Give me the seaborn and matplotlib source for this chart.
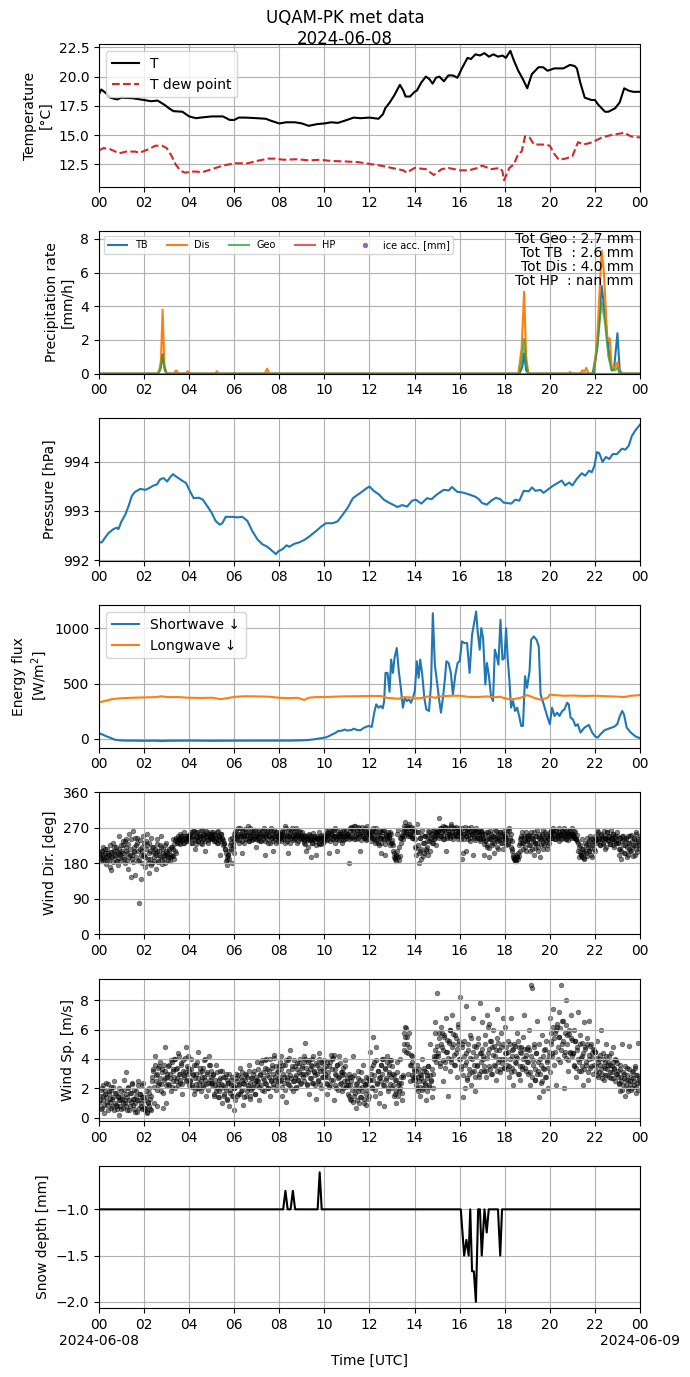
import numpy as np
import pandas as pd
import matplotlib
matplotlib.use("Agg")
import matplotlib.pyplot as plt
import matplotlib.dates as mdates
from matplotlib.ticker import FuncFormatter
import seaborn as sns

plt.rcParams['font.family'] = ['DejaVu Sans']

DAY = "2024-06-08"
TITLE = "UQAM-PK met data\n2024-06-08"

# ---------------- data (hour of day, value) ----------------
T_pts = [(0.0,18.5),(0.1,18.9),(0.3,18.6),(0.5,18.2),(0.8,18.05),(1.0,18.2),(1.5,18.15),(2.0,18.0),
         (2.3,17.9),(2.6,17.95),(2.9,17.6),(3.1,17.3),(3.3,17.05),(3.7,17.0),(4.0,16.6),(4.3,16.45),
         (4.5,16.5),(5.0,16.6),(5.5,16.6),(5.8,16.3),(6.0,16.3),(6.2,16.5),(6.5,16.5),(7.0,16.45),
         (7.4,16.4),(7.6,16.25),(8.0,16.0),(8.3,16.1),(8.7,16.1),(9.0,16.0),(9.3,15.8),(9.7,15.95),
         (10.0,16.0),(10.3,16.1),(10.6,16.05),(11.0,16.3),(11.3,16.5),(11.6,16.45),(12.0,16.5),
         (12.4,16.4),(12.6,16.8),(12.7,17.3),(12.9,17.8),(13.1,18.4),(13.35,19.3),(13.5,18.8),
         (13.6,18.3),(13.8,18.3),(14.0,18.7),(14.1,18.8),(14.3,19.5),(14.5,20.0),(14.65,19.8),
         (14.8,19.4),(14.95,19.9),(15.1,20.0),(15.3,19.6),(15.5,20.1),(15.7,20.1),(15.9,19.9),
         (16.1,20.7),(16.35,21.6),(16.5,21.5),(16.7,21.9),(16.9,21.8),(17.1,22.0),(17.3,21.7),
         (17.5,21.9),(17.7,21.7),(17.9,21.8),(18.05,21.6),(18.25,22.2),(18.4,21.4),(18.6,20.5),
         (18.8,19.8),(19.0,19.0),(19.2,20.2),(19.5,20.8),(19.7,20.8),(19.9,20.5),(20.2,20.7),
         (20.6,20.7),(20.9,21.0),(21.1,20.9),(21.2,20.7),(21.35,19.5),(21.55,18.2),(21.85,18.0),
         (22.0,18.0),(22.15,17.6),(22.45,17.0),(22.6,17.0),(22.9,17.3),(23.1,17.8),(23.3,19.0),
         (23.5,18.8),(23.7,18.7),(24.0,18.7)]

Td_pts = [(0.0,13.7),(0.2,13.9),(0.5,13.8),(0.9,13.45),(1.2,13.6),(1.6,13.6),(1.8,13.5),(2.2,13.8),
          (2.5,14.1),(2.8,14.1),(3.0,13.9),(3.2,13.3),(3.4,12.5),(3.6,12.0),(3.8,11.8),(4.2,11.9),
          (4.6,11.85),(5.0,12.1),(5.5,12.4),(6.0,12.6),(6.6,12.6),(7.0,12.8),(7.5,13.0),(7.8,13.0),
          (8.2,12.9),(8.8,12.95),(9.3,12.85),(9.8,12.9),(10.3,12.8),(11.0,12.75),(11.5,12.7),
          (12.0,12.55),(12.5,12.4),(13.0,12.2),(13.5,12.0),(13.65,11.8),(14.0,12.2),(14.5,12.1),
          (14.85,11.6),(15.2,12.1),(15.5,12.2),(16.0,12.0),(16.4,12.0),(16.8,12.2),(17.0,12.4),
          (17.4,12.1),(17.8,12.2),(17.9,11.9),(17.97,11.15),(18.2,12.2),(18.4,12.5),(18.6,13.4),
          (18.75,13.6),(18.9,14.9),(19.1,14.8),(19.3,14.2),(19.8,14.2),(20.0,14.1),(20.2,13.4),
          (20.4,12.9),(20.7,13.0),(21.0,13.2),(21.25,14.4),(21.5,14.2),(21.9,14.4),(22.3,14.8),
          (22.7,15.0),(23.0,15.1),(23.3,15.2),(23.6,14.9),(24.0,14.8)]

TB_pts = [(0,0),(2.6,0),(2.72,0.3),(2.82,1.1),(2.92,0.2),(3.0,0),(18.65,0),(18.78,0.4),(18.86,1.2),
          (18.95,0.2),(19.05,0),(21.9,0),(22.1,1.5),(22.3,5.2),(22.45,3.5),(22.6,1.5),(22.75,0.2),
          (22.85,0.3),(23.0,2.4),(23.1,0.2),(23.2,0),(24,0)]
Dis_pts = [(0,0),(2.65,0),(2.75,0.8),(2.82,3.8),(2.9,0.5),(3.0,0),(3.3,0),(3.42,0.2),(3.55,0),
           (3.85,0),(3.93,0.15),(4.0,0),(5.15,0),(5.23,0.15),(5.3,0),(7.35,0),(7.46,0.3),(7.55,0),
           (18.6,0),(18.75,1.5),(18.86,4.86),(18.95,1.0),(19.05,0),(20.8,0),(20.9,0.1),(21.0,0),
           (21.35,0),(21.45,0.2),(21.55,0.15),(21.62,0.35),(21.72,0),(21.95,0),(22.1,2.0),(22.3,7.3),
           (22.4,6.0),(22.55,2.0),(22.66,2.1),(22.75,0.3),(22.9,0.4),(23.0,0.66),(23.1,0),(24,0)]
Geo_pts = [(0,0),(2.65,0),(2.75,0.4),(2.82,1.16),(2.9,0.4),(3.0,0),(18.65,0),(18.75,0.8),(18.86,2.06),
           (18.95,0.5),(19.05,0),(21.95,0),(22.1,1.5),(22.3,4.26),(22.45,3.0),(22.6,1.0),(22.75,0.2),
           (22.9,0.2),(23.0,0.36),(23.1,0),(24,0)]
HP_pts = [(0,0),(24,0)]
TOTALS = {"Geo": "2.7", "TB ": "2.6", "Dis": "4.0", "HP ": "nan"}

P_pts = [(0.0,992.36),(0.12,992.36),(0.42,992.55),(0.64,992.63),(0.79,992.66),(0.86,992.63),(1.01,992.8),
         (1.16,992.92),(1.31,993.1),(1.46,993.31),(1.6,993.39),(1.83,993.45),(2.05,993.43),(2.2,993.46),
         (2.42,993.52),(2.57,993.54),(2.72,993.65),(2.87,993.67),(3.02,993.6),(3.16,993.69),(3.28,993.75),
         (3.46,993.69),(3.68,993.62),(3.86,993.57),(4.06,993.38),(4.2,993.26),(4.43,993.27),(4.61,993.23),
         (4.8,993.1),(4.99,992.97),(5.17,992.8),(5.35,992.72),(5.47,992.75),(5.62,992.88),(5.91,992.88),
         (6.14,992.87),(6.36,992.88),(6.58,992.8),(6.8,992.59),(7.03,992.42),(7.25,992.32),(7.47,992.27),
         (7.7,992.18),(7.85,992.12),(7.96,992.18),(8.14,992.22),(8.32,992.3),(8.44,992.27),(8.66,992.33),
         (8.89,992.36),(9.11,992.41),(9.33,992.48),(9.63,992.59),(9.85,992.68),(10.07,992.75),(10.37,992.75),
         (10.59,992.79),(10.82,992.93),(11.04,993.07),(11.26,993.26),(11.41,993.31),(11.63,993.38),
         (11.86,993.46),(12.0,993.5),(12.19,993.41),(12.41,993.34),(12.64,993.23),(12.86,993.17),
         (13.08,993.12),(13.23,993.08),(13.45,993.12),(13.67,993.09),(13.89,993.21),(14.06,993.23),
         (14.3,993.15),(14.55,993.26),(14.75,993.24),(15.0,993.34),(15.29,993.43),(15.52,993.42),
         (15.66,993.49),(15.89,993.39),(16.1,993.38),(16.4,993.34),(16.7,993.29),(16.85,993.24),
         (17.0,993.16),(17.21,993.13),(17.4,993.21),(17.61,993.27),(17.8,993.24),(17.95,993.17),
         (18.14,993.16),(18.29,993.15),(18.47,993.23),(18.65,993.21),(18.84,993.41),(19.06,993.4),
         (19.21,993.48),(19.36,993.41),(19.58,993.43),(19.72,993.37),(19.95,993.45),(20.16,993.52),
         (20.38,993.58),(20.53,993.62),(20.68,993.52),(20.86,993.58),(21.0,993.52),(21.19,993.65),
         (21.42,993.77),(21.57,993.72),(21.74,993.82),(21.86,993.79),(21.98,993.92),(22.09,994.2),
         (22.19,994.18),(22.34,994.0),(22.49,994.1),(22.64,994.06),(22.79,994.16),(22.98,994.16),
         (23.2,994.27),(23.35,994.25),(23.5,994.33),(23.64,994.53),(23.82,994.66),(24.0,994.76)]

SW_pts = [(0.0,50),(0.15,40),(0.3,25),(0.5,10),(0.7,-8),(1.0,-15),(1.5,-17),(2.0,-18),(2.5,-17),
          (2.8,-20),(3.0,-18),(3.5,-17),(4.0,-16),(4.5,-17),(5.0,-18),(5.5,-17),(6.0,-17),(6.5,-17),
          (7.0,-16),(7.5,-17),(8.0,-17),(8.5,-16),(9.0,-14),(9.3,-10),(9.6,-3),(9.9,8),(10.1,15),
          (10.3,35),(10.5,55),(10.6,70),(10.8,75),(10.9,85),(11.0,75),(11.2,80),(11.3,92),(11.45,80),
          (11.6,78),(11.75,100),(11.95,117),(12.1,108),(12.21,237),(12.3,312),(12.4,282),(12.5,297),
          (12.59,276),(12.65,342),(12.71,597),(12.8,597),(12.89,426),(12.96,717),(13.04,597),(13.11,732),
          (13.21,822),(13.3,612),(13.39,462),(13.48,282),(13.57,372),(13.66,342),(13.75,357),(13.84,327),
          (13.93,372),(14.01,432),(14.1,702),(14.18,552),(14.25,717),(14.34,582),(14.43,372),(14.52,267),
          (14.64,252),(14.73,492),(14.81,1137),(14.9,672),(14.99,522),(15.08,372),(15.17,237),(15.26,372),
          (15.35,552),(15.41,702),(15.51,687),(15.61,597),(15.7,402),(15.81,582),(15.91,687),(16.0,702),
          (16.1,882),(16.21,867),(16.33,867),(16.44,597),(16.55,942),(16.65,1062),(16.73,1152),(16.8,972),
          (16.89,807),(16.96,1002),(17.04,912),(17.14,492),(17.21,687),(17.3,567),(17.39,387),(17.48,342),
          (17.56,807),(17.63,762),(17.72,672),(17.81,1077),(17.9,717),(17.99,732),(18.06,1002),(18.13,732),
          (18.21,522),(18.28,282),(18.37,342),(18.46,252),(18.55,282),(18.64,207),(18.73,117),(18.81,117),
          (18.9,567),(18.99,462),(19.1,612),(19.17,897),(19.29,927),(19.41,897),(19.51,837),(19.59,402),
          (19.73,312),(19.88,207),(20.0,132),(20.1,282),(20.21,207),(20.33,237),(20.43,207),(20.55,252),
          (20.65,267),(20.77,327),(20.84,312),(20.92,192),(21.02,177),(21.14,117),(21.24,132),(21.36,57),
          (21.54,102),(21.73,126),(21.88,57),(22.03,18),(22.13,12),(22.25,42),(22.43,78),(22.62,93),
          (22.84,108),(22.99,132),(23.11,207),(23.21,252),(23.29,222),(23.41,102),(23.59,57),(23.81,21),
          (24.0,6)]

LW_pts = [(0,330),(0.3,345),(0.6,360),(1.0,368),(1.5,372),(2.0,375),(2.5,378),(2.8,385),(3.0,378),
          (3.5,378),(4.0,372),(4.5,370),(5.0,372),(5.4,360),(5.7,368),(6.0,380),(6.5,386),(7.0,384),
          (7.5,382),(8.0,372),(8.5,368),(8.8,372),(9.1,352),(9.3,372),(9.6,378),(10.0,378),(10.5,382),
          (11.0,385),(11.5,386),(12.0,388),(12.5,388),(12.8,370),(13.0,368),(13.3,362),(13.5,378),
          (13.8,375),(14.0,366),(14.3,370),(14.6,384),(14.9,372),(15.2,385),(15.6,390),(16.0,390),
          (16.4,380),(16.8,378),(17.2,384),(17.5,376),(17.8,380),(18.1,362),(18.4,360),(18.7,372),
          (19.0,396),(19.3,372),(19.6,354),(19.9,372),(20.0,400),(20.3,395),(20.6,390),(21.0,392),
          (21.5,388),(22.0,390),(22.5,386),(23.0,382),(23.3,378),(23.6,390),(24.0,396)]

# wind direction [deg]: two interleaved sample sets, one row per hour 00..23
WD_a = [
    [205,198,192,210,185,200,215,195,188,205,200,170,162,208,196,230,220,200,185,212,175,250,203,225],
    [210,235,195,180,220,240,205,165,255,200,145,190,262,210,150,225,245,185,80,215,140,180,210,250],
    [200,170,235,255,190,155,210,245,180,220,195,205,165,240,210,185,200,225,250,190,215,200,180,230],
    [205,195,215,185,200,220,198,240,190,210,205,235,240,230,245,250,238,242,232,248,240,235,250,245],
    [245,255,230,250,262,240,215,248,258,235,250,245,265,228,252,240,255,210,248,260,238,250,245,255],
    [250,240,255,235,245,260,230,250,242,200,255,245,238,230,215,185,175,200,190,240,215,180,225,205],
    [255,260,245,250,270,230,255,248,205,262,250,240,258,252,275,235,250,245,260,255,240,265,250,220],
    [250,245,260,235,255,250,240,265,200,252,248,258,230,250,262,245,255,210,250,240,260,248,235,255],
    [245,255,250,260,240,248,275,252,235,205,250,258,245,270,250,240,255,262,248,230,252,245,260,250],
    [250,240,235,248,210,245,238,252,242,195,230,245,240,250,235,200,245,240,228,250,245,238,232,248],
    [245,255,250,240,258,205,248,262,252,240,265,250,245,210,255,248,260,242,250,255,238,262,250,245],
    [255,250,180,262,245,270,258,275,250,240,265,255,272,248,210,258,262,250,245,268,255,240,260,252],
    [260,250,245,270,255,240,262,235,250,230,258,245,205,250,265,240,200,255,248,235,252,245,260,230],
    [230,210,195,190,200,255,265,188,198,245,250,240,275,265,285,260,255,270,280,250,262,245,268,258],
    [220,200,280,260,180,210,245,190,265,230,205,250,215,235,200,260,245,240,255,230,265,250,245,260],
    [255,262,295,250,270,258,240,265,272,210,250,262,255,268,245,275,260,250,270,255,262,248,258,265],
    [260,250,190,205,255,265,248,210,258,270,252,245,262,255,200,250,265,258,245,260,252,240,258,262],
    [250,245,200,235,260,225,248,195,240,255,230,250,205,245,262,235,250,215,245,258,240,230,255,248],
    [250,240,265,230,270,245,255,235,215,195,190,185,200,195,205,225,240,250,230,215,245,235,210,250],
    [240,250,225,210,260,245,235,200,230,250,265,220,245,195,240,255,230,215,245,260,235,250,225,240],
    [250,258,245,262,255,240,265,250,248,260,235,255,252,262,245,258,250,242,260,255,248,262,250,255],
    [255,250,245,258,240,235,210,195,225,200,240,215,190,230,205,245,220,210,235,250,200,225,240,215],
    [250,240,265,235,245,225,255,240,230,250,245,215,240,258,235,250,228,245,240,255,220,245,235,250],
    [230,200,245,215,190,235,250,205,225,240,195,230,215,250,210,235,225,245,200,255,215,230,240,225],
]
WD_b = [
    [200,185,212,195,220,190,205,178,215,200,188,225,195,208,182,212,198,220,185,205,192,215,200,188],
    [205,225,190,235,210,185,228,195,215,240,200,182,222,208,245,195,230,212,188,238,202,220,198,232],
    [195,215,225,180,205,230,190,175,220,208,185,215,200,228,182,212,195,222,178,206,190,225,200,212],
    [200,188,212,195,220,198,215,228,238,245,232,250,240,228,255,238,248,232,258,244,236,250,242,252],
    [245,258,232,250,262,238,228,260,246,235,255,248,232,265,242,252,236,262,247,230,255,240,258,244],
    [248,260,236,252,244,230,262,248,235,255,242,225,228,215,205,195,188,200,212,225,232,245,218,235],
    [250,265,240,255,238,268,250,235,262,248,232,266,252,240,258,236,270,250,238,260,244,264,240,255],
    [252,238,265,250,236,262,248,270,235,254,240,262,250,232,268,245,258,236,264,250,232,258,246,240],
    [250,236,262,245,258,232,268,250,240,262,248,230,265,252,238,260,244,270,250,235,262,248,240,258],
    [243,230,252,228,248,240,222,255,238,248,232,256,240,246,225,250,242,232,258,244,228,252,240,235],
    [248,262,238,252,265,236,255,242,262,248,232,268,250,240,262,238,255,248,230,265,250,240,262,252],
    [255,242,268,250,272,246,262,240,275,252,265,245,270,255,238,272,250,265,245,260,238,275,255,262],
    [250,235,262,245,258,230,268,240,252,225,262,245,232,258,242,265,228,252,240,260,246,225,255,238],
    [225,205,192,185,198,212,195,220,245,232,252,262,250,270,258,275,248,268,255,272,250,262,245,265],
    [240,218,258,225,205,245,215,252,198,232,248,210,250,222,262,236,212,255,230,265,240,252,225,260],
    [258,245,270,250,265,275,252,242,272,258,245,268,255,248,278,260,242,268,252,272,250,262,240,270],
    [256,242,268,255,240,272,250,264,242,258,235,272,255,265,245,260,238,270,250,262,245,235,262,255],
    [242,228,255,238,222,258,245,218,262,240,225,250,232,265,242,222,255,238,260,230,248,215,262,240],
    [240,225,255,228,262,238,220,210,200,192,188,185,195,190,198,212,230,245,258,232,248,222,260,236],
    [238,252,225,248,215,240,260,230,218,250,232,210,255,240,228,248,265,225,238,255,215,245,230,258],
    [252,265,245,268,255,240,262,252,245,268,255,240,262,250,270,255,242,265,252,238,262,255,245,268],
    [250,262,245,240,252,232,220,208,200,195,215,205,192,212,225,198,232,210,218,240,195,228,235,212],
    [242,255,230,258,240,225,252,242,228,262,245,222,258,238,250,228,265,242,225,255,235,250,230,260],
    [230,215,245,210,248,225,238,205,245,222,200,250,230,212,252,222,198,242,225,258,208,235,218,248],
]

# wind speed [m/s]: two interleaved sample sets, one row per hour 00..23
WS_a = [
    [1.0,1.5,0.6,2.0,1.2,0.3,1.8,1.4,0.9,2.3,1.6,1.1,0.7,1.9,1.3,2.1,0.5,1.0,1.7,0.8,1.4,0.2,1.2,0.6],
    [1.5,1.0,2.6,1.2,3.1,0.8,1.4,2.0,0.5,1.7,1.1,2.4,0.9,1.3,0.4,1.8,1.2,2.5,0.7,1.6,1.0,2.2,0.6,1.4],
    [1.2,0.5,1.8,0.3,1.0,2.0,0.6,1.5,2.8,3.2,1.0,4.2,2.5,3.0,0.8,2.2,3.5,2.7,1.8,3.3,0.7,2.6,4.8,1.0],
    [2.8,3.5,2.2,3.0,1.8,3.8,2.5,3.2,4.0,2.0,3.3,2.7,4.4,3.0,2.4,3.6,1.6,3.9,2.9,3.1,4.8,2.6,3.4,4.2],
    [3.2,2.5,4.0,2.2,3.0,1.6,2.7,3.6,2.0,4.5,2.4,3.1,1.8,2.8,3.4,2.2,3.9,2.6,1.5,3.0,2.4,4.2,3.6,2.8],
    [2.4,3.0,1.5,2.2,3.6,2.0,1.4,2.6,1.8,3.2,2.3,1.0,2.8,1.6,2.1,3.0,1.2,2.4,0.8,1.9,2.6,1.5,2.2,0.5],
    [2.0,1.2,3.0,2.5,1.6,2.2,3.4,1.8,2.6,0.9,2.3,3.0,1.5,2.8,2.0,3.6,1.3,2.4,1.9,2.7,2.1,3.2,1.6,2.5],
    [3.8,2.5,1.2,3.0,2.2,3.9,2.7,1.8,3.4,2.4,4.0,2.9,2.0,3.2,1.5,2.6,3.6,2.3,4.3,2.8,1.9,3.1,2.5,3.5],
    [3.8,2.6,4.2,1.5,3.0,2.4,3.6,1.1,2.8,3.9,2.2,4.6,2.7,3.3,1.8,2.5,3.5,2.9,2.0,3.7,2.6,3.1,4.0,2.4],
    [3.5,2.8,4.2,5.1,3.0,2.2,3.8,1.6,3.3,2.7,4.0,3.5,2.4,3.1,2.9,1.3,3.6,2.5,4.4,3.2,2.0,3.7,2.8,3.4],
    [3.0,2.4,3.8,1.6,2.8,3.5,2.2,4.3,4.0,2.6,1.2,3.3,2.0,3.6,2.7,4.2,2.3,3.1,1.8,2.9,3.4,2.5,3.9,2.1],
    [2.5,1.6,3.0,2.2,1.2,2.8,4.2,1.5,2.0,0.7,2.4,1.8,3.2,1.0,2.6,1.4,2.1,3.6,1.3,2.3,0.9,1.9,2.7,1.5],
    [4.5,3.0,2.0,5.5,2.6,3.8,1.5,4.8,2.4,3.2,1.0,2.8,3.6,4.0,2.2,0.8,3.4,2.6,4.2,1.8,3.0,3.6,2.3,3.9],
    [2.0,3.0,1.5,2.6,1.0,3.8,2.2,1.8,4.0,2.4,1.2,2.8,5.0,5.8,6.2,4.5,5.5,3.0,4.8,2.5,3.6,4.2,2.8,3.2],
    [2.8,2.2,3.6,1.8,2.5,3.0,1.5,2.7,4.0,2.0,3.2,2.4,1.2,2.9,3.5,2.1,5.0,2.6,1.4,3.0,4.2,6.5,5.8,3.8],
    [8.5,4.2,5.8,3.5,6.2,4.8,2.5,5.5,3.8,6.8,4.5,1.5,5.2,3.2,6.0,4.0,7.0,5.0,3.6,5.6,4.4,2.8,6.4,5.2],
    [8.2,3.5,5.0,1.4,4.2,2.0,3.8,7.6,2.6,4.6,3.0,5.6,2.2,4.0,6.8,3.2,1.8,4.8,3.6,5.4,2.8,7.8,4.4,3.2],
    [6.5,4.0,3.2,5.6,2.8,7.0,4.4,3.5,5.2,3.0,4.8,6.0,3.6,4.2,2.6,5.4,7.4,3.8,4.6,3.3,5.8,4.0,6.8,3.4],
    [6.2,4.4,3.6,5.2,2.8,4.0,6.8,3.4,4.6,2.2,5.0,3.8,4.2,5.8,3.0,4.8,2.6,4.4,3.5,5.5,7.0,4.1,3.2,4.7],
    [4.8,3.0,6.0,2.2,9.0,8.8,3.6,5.0,2.6,4.4,6.6,3.2,1.4,4.0,2.4,5.6,3.4,1.8,4.6,2.8,5.2,3.8,2.0,4.2],
    [6.8,5.2,4.4,7.4,3.6,5.8,2.2,6.2,4.8,7.2,5.5,3.8,9.0,5.0,6.6,2.0,4.5,8.0,5.6,3.2,6.0,4.4,7.0,5.3],
    [4.4,6.0,3.5,5.2,2.8,4.6,7.2,3.8,5.6,3.2,4.2,2.2,6.5,4.8,3.6,5.4,2.6,4.0,6.6,3.4,5.0,4.4,3.0,4.6],
    [4.5,3.2,5.2,2.8,4.0,3.6,6.0,3.0,4.4,2.6,3.8,3.4,5.0,2.9,3.6,4.2,3.1,2.7,3.5,4.8,3.3,2.5,3.9,3.0],
    [3.2,2.4,3.6,1.8,2.8,5.0,2.2,3.0,1.5,2.6,3.4,2.0,4.9,2.5,1.9,3.1,2.7,2.2,3.5,1.7,2.9,2.4,5.1,2.6],
]
WS_b = [
    [1.2,1.9,0.7,1.5,2.2,0.9,1.6,2.4,1.1,0.5,1.8,1.3,2.1,0.8,1.4,2.5,1.7,0.9,0.6,1.5,2.0,1.2,0.8,1.8],
    [1.3,0.7,1.9,1.0,1.6,0.5,2.1,1.2,0.8,1.7,2.3,1.3,0.6,1.9,1.0,1.5,0.4,2.2,1.2,1.6,0.8,1.4,2.4,0.7],
    [0.7,1.4,0.4,1.1,1.7,0.8,1.3,0.5,2.5,3.3,2.1,3.6,2.9,1.9,3.4,2.4,3.8,2.3,3.1,1.7,3.6,2.7,3.2,2.2],
    [3.0,2.3,3.6,2.7,3.9,2.1,3.3,2.8,4.0,2.5,3.4,2.2,4.2,3.0,2.6,3.7,2.3,3.2,2.8,4.1,2.5,3.5,3.0,2.2],
    [2.6,3.3,2.1,2.9,3.6,1.9,3.0,2.3,3.8,2.7,2.0,3.4,2.5,3.2,2.1,2.8,4.0,2.3,3.1,1.9,3.6,2.6,3.2,2.4],
    [2.2,2.9,1.6,2.6,1.8,3.1,2.3,1.4,2.7,2.0,3.2,2.2,1.5,2.8,1.9,2.6,1.3,2.4,3.0,1.7,2.2,2.8,1.5,2.0],
    [2.1,2.7,1.5,2.9,2.3,1.6,2.8,1.9,3.1,2.4,1.4,2.6,2.9,1.8,2.2,3.2,1.5,2.7,2.0,3.0,2.4,1.6,2.8,2.2],
    [2.6,3.3,2.1,2.9,3.7,1.9,3.1,2.6,3.9,2.3,3.3,2.0,2.8,4.0,2.5,3.4,2.1,3.0,4.1,2.6,3.5,2.2,3.2,2.8],
    [2.5,3.3,2.1,3.6,2.8,1.9,3.9,2.6,3.2,2.3,4.1,2.9,2.0,3.5,2.5,3.9,2.8,2.1,3.3,2.6,3.7,2.3,3.0,3.4],
    [3.0,3.8,2.5,4.0,3.4,2.3,3.1,3.9,2.7,3.6,2.4,4.2,3.2,2.2,3.7,3.0,2.6,4.0,3.4,2.3,3.8,2.8,3.2,3.9],
    [2.8,3.5,2.3,3.1,2.1,3.8,2.6,3.3,4.1,4.3,3.0,2.2,2.9,3.6,1.9,2.8,3.7,2.4,3.1,2.0,3.0,3.5,2.2,2.7],
    [2.2,1.5,2.8,1.3,2.5,1.9,1.1,2.9,1.7,2.3,1.2,2.7,2.0,1.4,3.1,1.8,2.5,1.0,2.2,2.8,1.6,2.3,1.3,2.6],
    [2.6,3.4,2.1,3.6,2.9,1.9,3.9,2.3,3.2,2.7,1.7,3.6,2.5,3.0,4.0,2.2,3.3,2.7,3.8,2.0,3.1,3.9,2.8,3.5],
    [2.2,2.9,1.6,2.6,1.8,3.1,1.5,2.4,2.0,2.8,1.7,2.9,4.6,5.5,6.1,5.0,4.4,5.8,3.6,4.3,2.9,3.8,2.6,3.3],
    [2.6,3.2,2.0,2.8,3.3,2.1,2.9,1.9,2.5,3.4,2.2,3.1,1.8,2.7,3.5,2.2,2.9,2.5,3.3,2.0,4.0,4.6,4.2,4.9],
    [4.4,5.4,3.7,5.0,5.8,3.9,4.6,5.6,3.4,4.5,5.3,4.1,5.1,6.0,3.8,4.8,5.7,4.3,3.6,5.4,4.7,5.0,6.2,4.0],
    [4.0,3.3,4.8,2.9,5.2,3.6,4.4,2.7,5.0,3.3,4.1,5.4,3.1,4.5,3.6,4.9,2.8,4.2,3.5,5.0,3.0,4.4,3.8,4.7],
    [4.2,3.5,5.0,3.2,4.1,6.2,6.4,4.7,3.3,5.2,3.0,4.3,4.9,3.5,4.6,3.2,5.1,4.0,3.1,4.8,3.7,5.0,3.4,4.4],
    [4.0,4.8,3.3,4.5,3.5,5.0,3.1,4.2,4.7,3.2,4.9,3.7,4.1,5.2,3.0,4.5,3.5,4.8,3.3,4.0,4.7,3.4,4.3,3.8],
    [3.8,4.6,3.1,4.2,2.8,3.9,4.8,3.3,2.6,4.4,3.0,3.8,5.0,3.0,3.6,2.5,4.2,3.3,4.7,2.8,3.9,3.4,4.5,3.1],
    [5.0,5.8,4.2,6.2,5.4,4.5,6.0,6.4,4.0,5.5,6.1,4.6,6.6,5.2,4.3,5.8,4.1,6.3,5.0,3.9,5.7,4.5,5.4,4.2],
    [4.4,3.6,5.2,3.4,4.8,4.0,3.2,5.0,4.1,3.5,5.1,4.4,3.3,4.7,3.8,5.0,3.1,4.3,4.9,3.5,4.1,4.7,3.6,4.5],
    [3.5,4.1,2.9,3.8,3.1,4.3,3.3,2.7,4.0,3.5,2.9,4.2,3.3,3.8,2.8,3.6,4.4,3.1,3.8,2.7,3.4,4.0,3.0,3.7],
    [2.8,2.3,3.3,2.5,1.9,3.1,2.7,3.5,2.2,2.9,1.8,2.6,3.3,2.3,2.8,2.0,3.2,2.5,3.4,2.1,2.9,1.9,2.7,2.4],
]

Snow_pts = [(0,-1),(8.17,-1),(8.27,-0.8),(8.37,-1),(8.5,-1),(8.6,-0.8),(8.7,-1),(9.7,-1),(9.79,-0.6),
            (9.88,-1),(16.05,-1),(16.2,-1.5),(16.3,-1.33),(16.4,-1.5),(16.47,-1),(16.55,-1.67),
            (16.63,-1.67),(16.72,-2),(16.82,-1),(16.9,-1),(16.98,-1.5),(17.1,-1),(17.2,-1.25),
            (17.29,-1),(17.7,-1),(17.8,-1.5),(17.88,-1),(24,-1)]

# ---------------- helpers ----------------
base = pd.Timestamp(DAY)

def series(pts):
    h, v = zip(*pts)
    return base + pd.to_timedelta(np.asarray(h, float), unit="h"), np.asarray(v, float)

def hourly_scatter(rows_a, rows_b):
    t, v = [], []
    for hr, (ra, rb) in enumerate(zip(rows_a, rows_b)):
        n = len(ra)
        for i in range(n):
            t.append(hr + (i + 0.25) / n); v.append(ra[i])
            t.append(hr + (i + 0.75) / n); v.append(rb[i])
    return base + pd.to_timedelta(np.asarray(t), unit="h"), np.asarray(v, float)

fig, axes = plt.subplots(7, 1, figsize=(6.9, 13.77), dpi=100)
fig.subplots_adjust(left=0.1435, right=0.9275, top=0.9678, bottom=0.0499, hspace=0.3125)

x0 = base.to_pydatetime()
x1 = (base + pd.Timedelta("1D")).to_pydatetime()

# 1 temperature
ax = axes[0]
t, v = series(T_pts)
sns.lineplot(x=t, y=v, ax=ax, color="black", label="T", estimator=None)
t, v = series(Td_pts)
sns.lineplot(x=t, y=v, ax=ax, color="tab:red", linestyle="--", label="T dew point", estimator=None)
ax.set_ylabel("Temperature\n[°C]")
ax.legend(loc="upper left")
fig.suptitle(TITLE, fontsize=12, y=0.9935)

# 2 precipitation
ax = axes[1]
for pts, col, lab, al in [(TB_pts, "tab:blue", "TB", 1.0), (Dis_pts, "tab:orange", "Dis", 1.0),
                          (Geo_pts, "tab:green", "Geo", 0.75), (HP_pts, "tab:red", "HP", 0.75)]:
    t, v = series(pts)
    sns.lineplot(x=t, y=v, ax=ax, color=col, label=lab, alpha=al, estimator=None)
ax.scatter([], [], color="tab:purple", s=8, label="ice acc. [mm]")
ax.legend(loc="upper left", ncol=5, fontsize=7)
ax.set_ylim(0, 8.45)
ax.set_ylabel("Precipitation rate\n[mm/h]")
ax.text(0.988, 0.995, "\n".join(f"Tot {k} : {val} mm" for k, val in TOTALS.items()),
        transform=ax.transAxes, ha="right", va="top", fontsize=10, linespacing=1.0, multialignment="right")

# 3 pressure
ax = axes[2]
t, v = series(P_pts)
sns.lineplot(x=t, y=v, ax=ax, color="tab:blue", estimator=None)
ax.set_ylabel("Pressure [hPa]")
ax.set_yticks([992, 993, 994])

# 4 energy flux
ax = axes[3]
t, v = series(SW_pts)
sns.lineplot(x=t, y=v, ax=ax, color="tab:blue", label="Shortwave ↓", estimator=None)
t, v = series(LW_pts)
sns.lineplot(x=t, y=v, ax=ax, color="tab:orange", label="Longwave ↓", estimator=None)
ax.legend(loc="upper left")
ax.set_ylabel("Energy flux\n[W/m$^2$]")

# 5 wind direction
ax = axes[4]
t, v = hourly_scatter(WD_a, WD_b)
sns.scatterplot(x=t, y=v, ax=ax, color="black", alpha=0.5, s=12, edgecolor="black", linewidth=0.4, legend=False)
ax.set_ylim(0, 360)
ax.set_yticks([0, 90, 180, 270, 360])
ax.set_ylabel("Wind Dir. [deg]")

# 6 wind speed
ax = axes[5]
t, v = hourly_scatter(WS_a, WS_b)
sns.scatterplot(x=t, y=v, ax=ax, color="black", alpha=0.5, s=12, edgecolor="black", linewidth=0.4, legend=False)
ax.set_ylabel("Wind Sp. [m/s]")

# 7 snow depth
ax = axes[6]
t, v = series(Snow_pts)
sns.lineplot(x=t, y=v, ax=ax, color="black", estimator=None)
ax.set_ylabel("Snow depth [mm]")
ax.set_xlabel("Time [UTC]")

def hour_fmt(x, pos=None):
    return mdates.num2date(x).strftime("%H")

def hour_date_fmt(x, pos=None):
    d = mdates.num2date(x)
    if d.hour == 0:
        return d.strftime("%H\n%Y-%m-%d")
    return d.strftime("%H")

for i, ax in enumerate(axes):
    ax.set_xlim(x0, x1)
    ax.xaxis.set_major_locator(mdates.HourLocator(byhour=range(0, 24, 2)))
    ax.xaxis.set_major_formatter(FuncFormatter(hour_date_fmt if i == 6 else hour_fmt))
    ax.grid(True)
    if i < 6:
        ax.set_xlabel("")

fig.savefig("out.png", dpi=100)
